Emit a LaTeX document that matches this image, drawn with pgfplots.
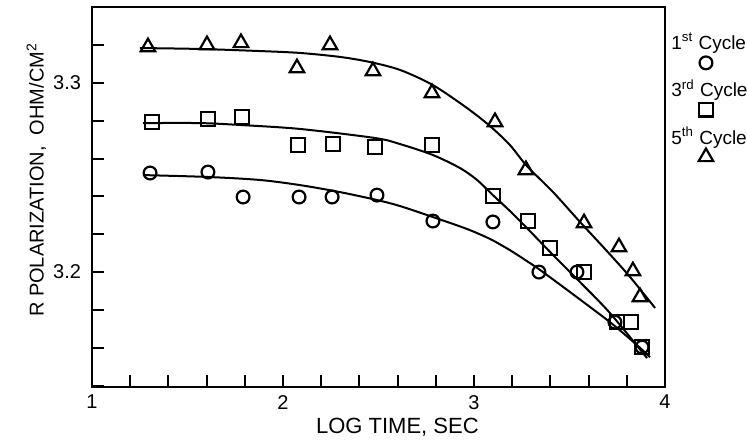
\documentclass[border=0pt]{standalone}
\usepackage{pgfplots}
\pgfplotsset{compat=1.18}
\usepackage{fontspec}
\setmainfont{Liberation Sans}

\newcommand{\tfont}{\fontsize{10}{12}\selectfont}
\newcommand{\lgfont}{\fontsize{9.5}{11}\selectfont}

\pgfplotsset{
	pts/.style={
		only marks,
		mark size=#1,
		mark options={line width=1.1pt, draw=black, fill=white},
		forget plot,
	},
	fit/.style={
		black, line width=1pt, smooth, tension=0.5, no marks, forget plot,
	},
	% legend symbol drawn below the entry text
	marker below/.style={
		legend image code/.code={
			\path (0,0);
			\draw[overlay, ##1] plot coordinates {(17.5pt,-10pt)};
		},
	},
}

\begin{document}
\begin{tikzpicture}
	\path[use as bounding box] (-46pt,-29.5pt) rectangle (327.5pt,193.5pt);
	\begin{axis}[
		at={(0,0)}, anchor=south west,
		scale only axis,
		width=286.5pt, height=190pt,
		xmin=1, xmax=4,
		ymin=3.1392, ymax=3.3402,
		xtick={1,2,3,4},
		minor xtick={1.2,1.4,1.6,1.8,2.2,2.4,2.6,2.8,3.2,3.4,3.6,3.8},
		ytick={3.2,3.3},
		minor ytick={3.14,3.16,3.18,3.22,3.24,3.26,3.28,3.32},
		tick align=inside,
		tick pos=left,
		major tick length=6pt,
		minor tick length=6pt,
		every tick/.style={black, line width=1pt},
		axis line style={line width=1.3pt},
		ticklabel style={font=\tfont},
		/pgf/number format/assume math mode=true,
		yticklabel style={/pgf/number format/fixed, /pgf/number format/precision=1, xshift=-2pt},
		xticklabel style={yshift=-0.5pt},
		xlabel={LOG TIME, SEC},
		ylabel={R POLARIZATION,\ \ OHM/CM\textsuperscript{2}},
		xlabel style={font=\fontsize{11}{13}\selectfont, at={(axis description cs:0.533,-0.107)}, anchor=center},
		ylabel style={font=\fontsize{10}{12}\selectfont, at={(axis description cs:-0.097,0.545)}, anchor=center},
		legend style={
			at={(rel axis cs:1.009,0.932)}, anchor=north west,
			draw=none, fill=none, font=\lgfont,
			inner sep=0pt, row sep=13.5pt,
			nodes={inner sep=0pt},
		},
		legend cell align=left,
		clip=false,
	]

		% 5th cycle
		\addplot[pts=4.2pt, mark=triangle] coordinates {
			(1.293,3.3190) (1.602,3.3201) (1.780,3.3212) (2.073,3.3079)
			(2.246,3.3201) (2.471,3.3063) (2.780,3.2947) (3.110,3.2794)
			(3.272,3.2540) (3.576,3.2259) (3.759,3.2132) (3.832,3.2005)
			(3.869,3.1868)
		};
		\addplot[fit] coordinates {
			(1.251,3.3185) (1.565,3.3180) (1.880,3.3169) (2.089,3.3159)
			(2.298,3.3138) (2.455,3.3111) (2.613,3.3069) (2.785,3.2989)
			(2.963,3.2868) (3.084,3.2772) (3.188,3.2672) (3.277,3.2561)
			(3.414,3.2423) (3.555,3.2265) (3.696,3.2111) (3.817,3.1974)
			(3.948,3.1810)
		};

		% 3rd cycle
		\addplot[pts=3.4pt, mark=square] coordinates {
			(1.314,3.2794) (1.607,3.2810) (1.785,3.2820) (2.079,3.2672)
			(2.262,3.2677) (2.482,3.2661) (2.780,3.2672) (3.099,3.2402)
			(3.283,3.2270) (3.398,3.2127) (3.576,3.2000) (3.749,3.1735)
			(3.822,3.1735) (3.880,3.1603)
		};
		\addplot[fit] coordinates {
			(1.267,3.2788) (1.565,3.2788) (1.775,3.2778) (2.089,3.2757)
			(2.482,3.2709) (2.613,3.2677) (2.785,3.2619) (2.927,3.2550)
			(3.016,3.2487) (3.099,3.2407) (3.188,3.2323) (3.277,3.2233)
			(3.414,3.2090) (3.555,3.1947) (3.712,3.1783) (3.906,3.1545)
		};

		% 1st cycle
		\addplot[pts=3.2pt, mark=o] coordinates {
			(1.304,3.2524) (1.607,3.2529) (1.791,3.2397) (2.084,3.2397)
			(2.257,3.2397) (2.492,3.2407) (2.785,3.2270) (3.099,3.2265)
			(3.340,3.2000) (3.539,3.2000) (3.738,3.1735) (3.880,3.1603)
		};
		\addplot[fit] coordinates {
			(1.267,3.2513) (1.607,3.2503) (1.880,3.2487) (2.089,3.2460)
			(2.298,3.2423) (2.492,3.2381) (2.613,3.2349) (2.785,3.2291)
			(2.963,3.2228) (3.084,3.2175) (3.188,3.2116) (3.277,3.2058)
			(3.346,3.2011) (3.503,3.1894) (3.712,3.1735) (3.853,3.1614)
			(3.921,3.1550)
		};

		\addlegendimage{only marks, mark=o, mark size=3.2pt, mark options={line width=1.1pt}, marker below}
		\addlegendentry{1\textsuperscript{st} Cycle}
		\addlegendimage{only marks, mark=square, mark size=3.4pt, mark options={line width=1.1pt}, marker below}
		\addlegendentry{3\textsuperscript{rd} Cycle}
		\addlegendimage{only marks, mark=triangle, mark size=4.2pt, mark options={line width=1.1pt}, marker below}
		\addlegendentry{5\textsuperscript{th} Cycle}
	\end{axis}
\end{tikzpicture}
\end{document}
